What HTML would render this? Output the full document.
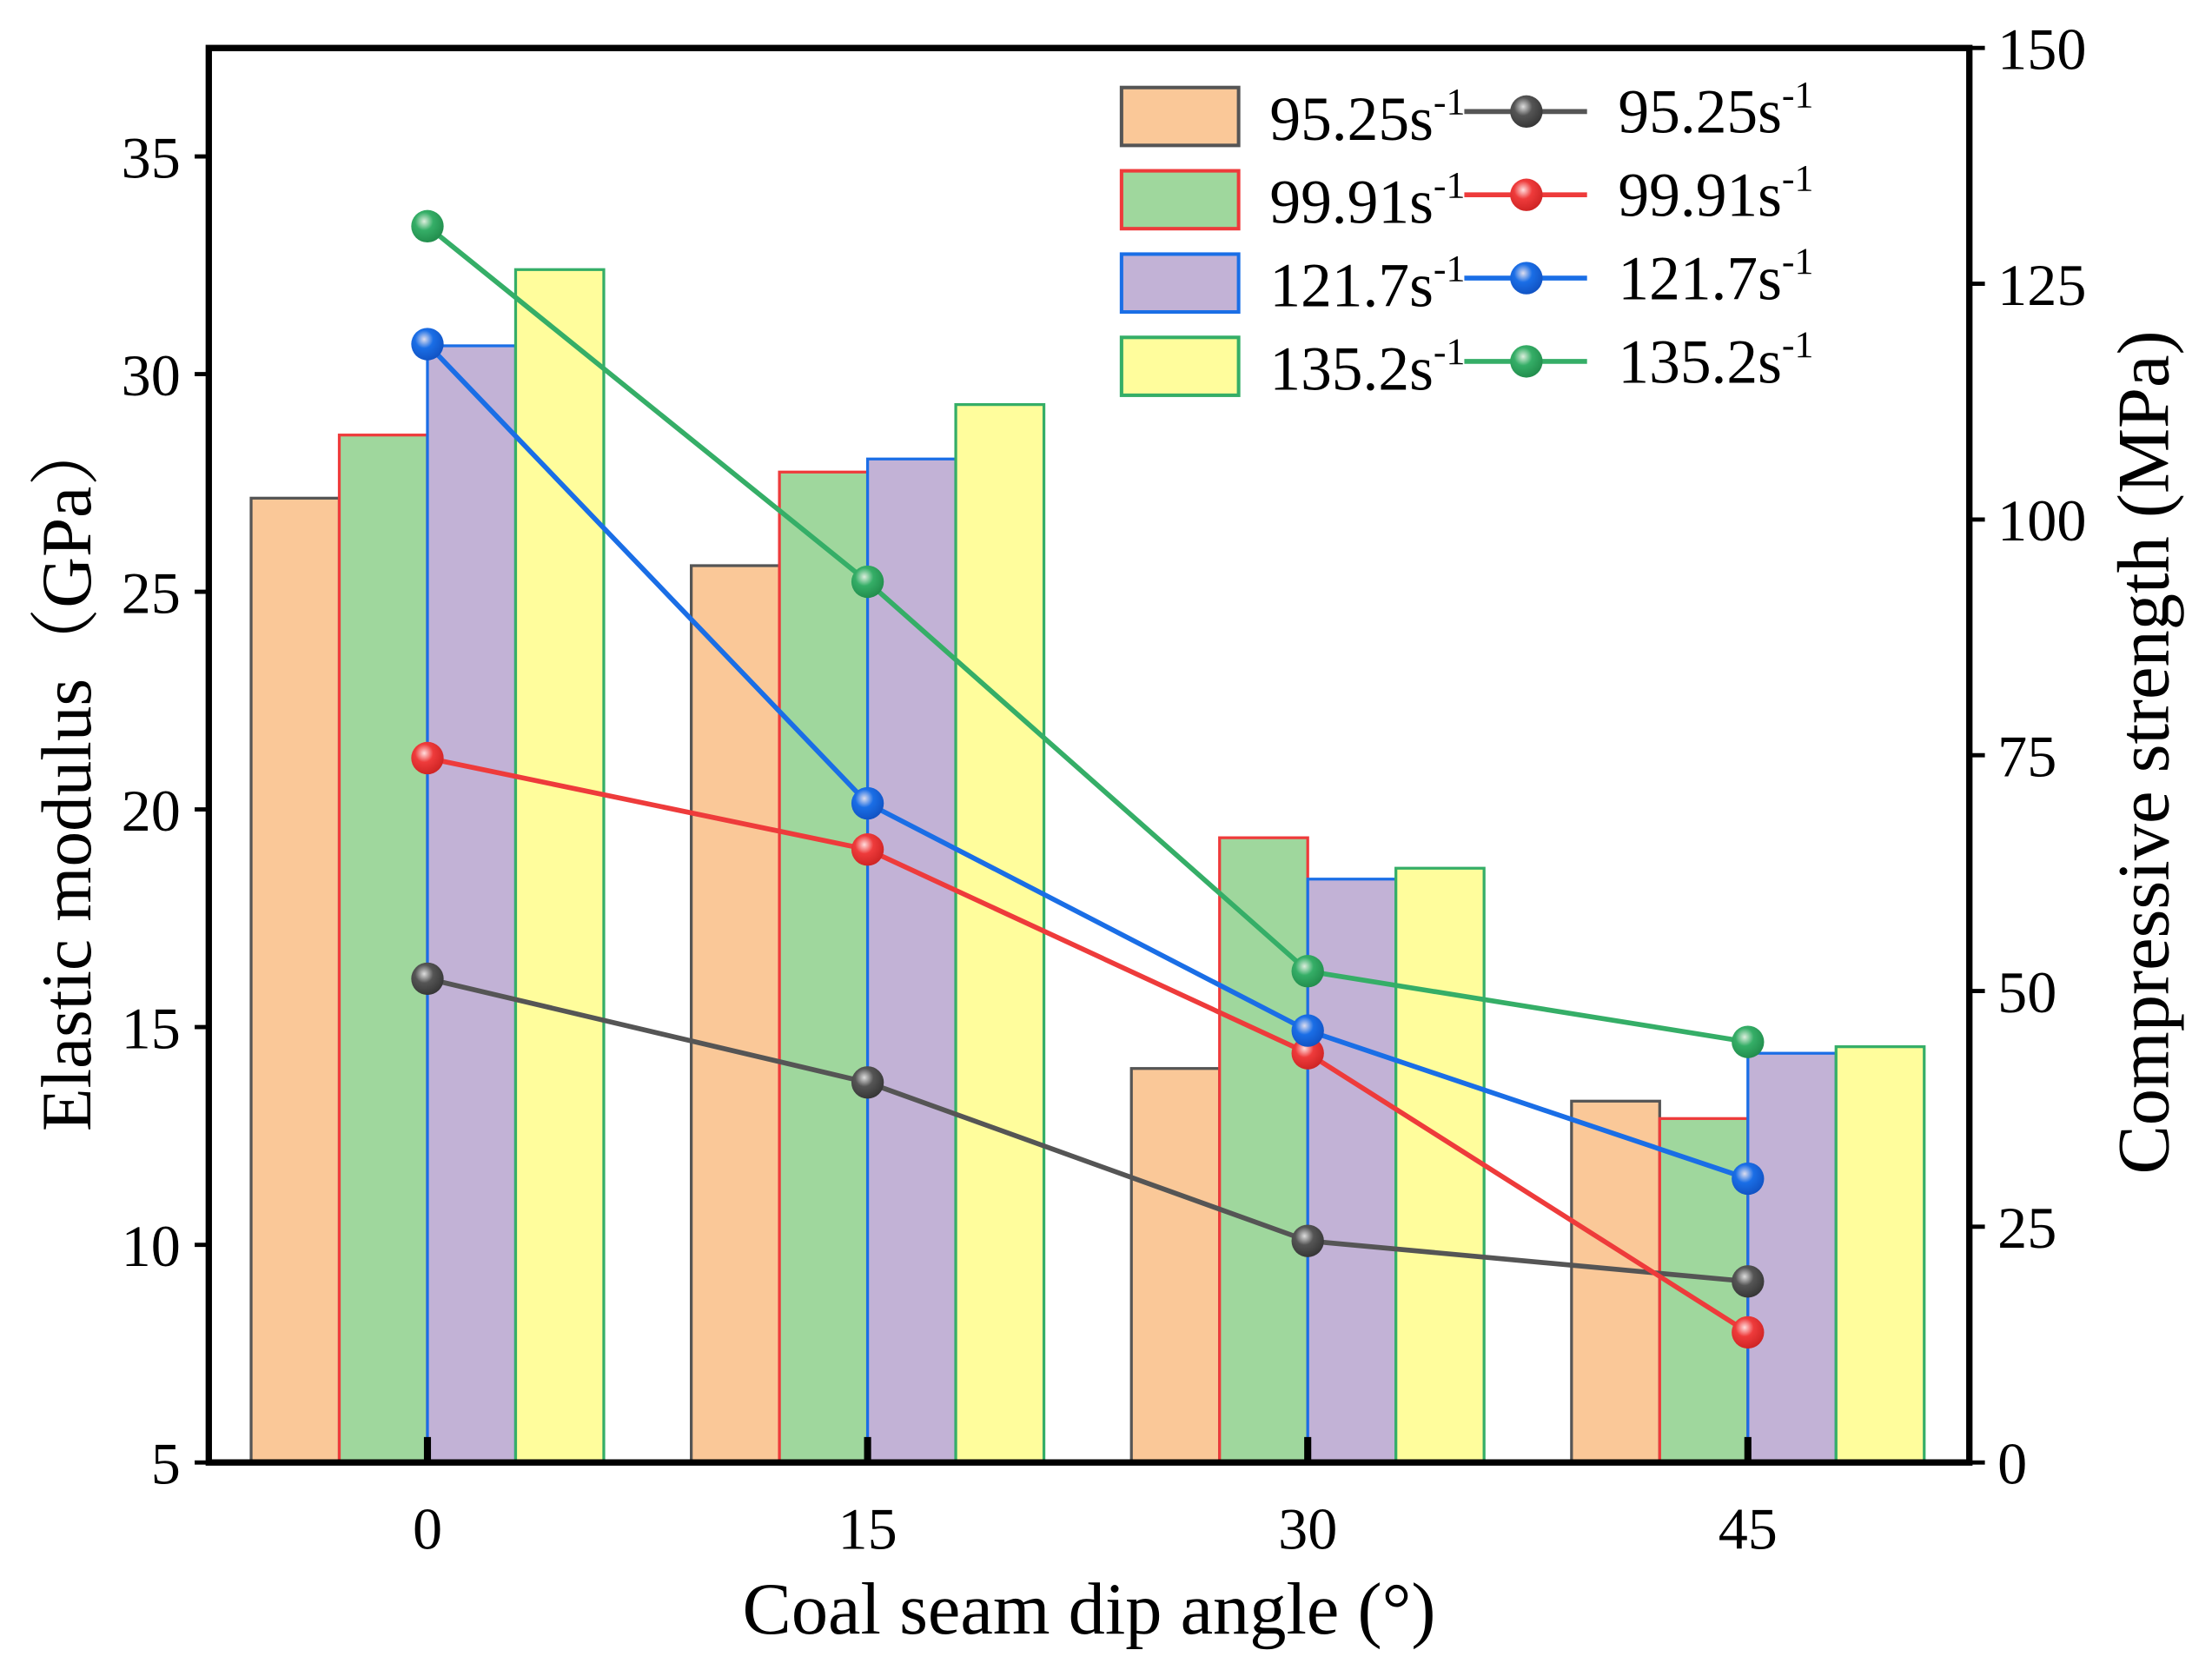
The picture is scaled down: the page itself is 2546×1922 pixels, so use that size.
<!DOCTYPE html>
<html><head><meta charset="utf-8"><style>
html,body{margin:0;padding:0;background:#fff}
svg{display:block}
text{font-family:"Liberation Serif",serif;fill:#000}
</style></head><body>
<svg id="chart" width="2546" height="1922" viewBox="0 0 1568 1183" preserveAspectRatio="none" xmlns="http://www.w3.org/2000/svg">
<defs>
<radialGradient id="gk" cx="0.4" cy="0.35" r="0.7"><stop offset="0" stop-color="#ddd"/><stop offset="0.4" stop-color="#555"/><stop offset="1" stop-color="#333"/></radialGradient>
<radialGradient id="gr" cx="0.4" cy="0.35" r="0.7"><stop offset="0" stop-color="#fdd"/><stop offset="0.4" stop-color="#ee3b3b"/><stop offset="1" stop-color="#c22"/></radialGradient>
<radialGradient id="gb" cx="0.4" cy="0.35" r="0.7"><stop offset="0" stop-color="#dde"/><stop offset="0.4" stop-color="#1a6ee6"/><stop offset="1" stop-color="#1050c0"/></radialGradient>
<radialGradient id="gg" cx="0.4" cy="0.35" r="0.7"><stop offset="0" stop-color="#ded"/><stop offset="0.4" stop-color="#35ae67"/><stop offset="1" stop-color="#208a4a"/></radialGradient>
</defs>
<g id="bars"></g>
<g id="lines"></g>
<rect x="148" y="34" width="1248" height="1002" fill="none" stroke="#000" stroke-width="4.5"/>
<g id="axes"></g>
<text x="772" y="1157" font-size="52" text-anchor="middle">Coal seam dip angle (°)</text>
<text transform="translate(64,548) rotate(-90)" font-size="50" text-anchor="middle" style='font-family:"Liberation Serif","Noto Serif CJK SC",serif'>Elastic modulus（GPa）</text>
<text transform="translate(1537,533) rotate(-90)" font-size="52" text-anchor="middle">Compressive strength (MPa)</text>
<g id="legend"></g>
</svg>
<script>
const categories = ["0","15","30","45"];
const seriesNames = ["95.25","99.91","121.7","135.2"];
const modulus0 = [27.15, 28.6, 30.65, 32.4];
const modulus15 = [25.6, 27.75, 28.05, 29.3];
const modulus30 = [14.05, 19.35, 18.4, 18.65];
const modulus45 = [13.3, 12.9, 14.4, 14.55];
const strength9525 = [51.3, 40.3, 23.5, 19.2];
const strength9991 = [74.7, 65.0, 43.4, 13.8];
const strength1217 = [118.6, 69.9, 45.8, 30.1];
const strength1352 = [131.1, 93.4, 52.1, 44.6];
const leftTicks = [5,10,15,20,25,30,35];
const rightTicks = [0,25,50,75,100,125,150];

const modulus = [modulus0, modulus15, modulus30, modulus45];
const strength = [strength9525, strength9991, strength1217, strength1352];
const fills = ["#FAC898","#9FD79D","#C2B2D6","#FFFD9C"];
const edges = ["#555","#ee3b3b","#1a6ee6","#35ae67"];
const grads = ["url(#gk)","url(#gr)","url(#gb)","url(#gg)"];
const NS = "http://www.w3.org/2000/svg";
const X0 = 303, DX = 312, BW = 62.5, YB = 1036;
function xPos(i){ return X0 + i*DX; }
function yLeft(v){ return YB - (v-5)/5*154.2; }
function yRight(v){ return YB - v/25*167; }
function mk(tag, attrs, parent){ const e=document.createElementNS(NS,tag); for(const k in attrs) e.setAttribute(k,attrs[k]); parent.appendChild(e); return e; }

const gBars = document.getElementById('bars');
modulus.forEach((vals,ci)=>{
  vals.forEach((v,si)=>{
    const x = xPos(ci) - 2*BW + si*BW;
    const y = yLeft(v);
    const r = mk('rect',{x:x,y:y,width:BW,height:YB-y,fill:fills[si],stroke:edges[si],'stroke-width':2},gBars);
    
    
  });
});
const gLines = document.getElementById('lines');
strength.forEach((vals,si)=>{
  const pts = vals.map((v,i)=>xPos(i)+','+yRight(v)).join(' ');
  const pl = mk('polyline',{points:pts,fill:'none',stroke:edges[si],'stroke-width':3.5},gLines);
  
  
});
strength.forEach((vals,si)=>{
  vals.forEach((v,i)=>{
    const c = mk('circle',{cx:xPos(i),cy:yRight(v),r:11.5,fill:grads[si]},gLines);
    
    
  });
});
const gAx = document.getElementById('axes');
leftTicks.forEach(t=>{
  const y=yLeft(t);
  mk('line',{x1:138,x2:148,y1:y,y2:y,stroke:'#000','stroke-width':3},gAx);
  const tx = mk('text',{x:128,y:y+15,'font-size':42,'text-anchor':'end'},gAx);
  tx.textContent = t;
  
  
});
rightTicks.forEach(t=>{
  const y=yRight(t);
  mk('line',{x1:1396,x2:1407,y1:y,y2:y,stroke:'#000','stroke-width':3},gAx);
  const tx = mk('text',{x:1416,y:y+15,'font-size':42},gAx);
  tx.textContent = t;
  
  
});
categories.forEach((c,i)=>{
  const x=xPos(i);
  mk('line',{x1:x,x2:x,y1:1036,y2:1018,stroke:'#000','stroke-width':5},gAx);
  const tx = mk('text',{x:x,y:1097,'font-size':42,'text-anchor':'middle'},gAx);
  tx.textContent = c;
  
  
});
const gLeg = document.getElementById('legend');
seriesNames.forEach((n,si)=>{
  const y = 62 + si*59;
  const r = mk('rect',{x:795,y:y,width:83,height:41,fill:fills[si],stroke:edges[si],'stroke-width':2.5},gLeg);
  
  
  const t1 = mk('text',{x:900,y:y+37,'font-size':44},gLeg);
  t1.innerHTML = n + 's<tspan dy="-18" font-size="27">-1</tspan>';
  
  
  mk('line',{x1:1038,x2:1125,y1:y+17,y2:y+17,stroke:edges[si],'stroke-width':3.5},gLeg);
  const c = mk('circle',{cx:1082,cy:y+17,r:11.5,fill:grads[si]},gLeg);
  
  
  const t2 = mk('text',{x:1147,y:y+32,'font-size':44},gLeg);
  t2.innerHTML = n + 's<tspan dy="-18" font-size="27">-1</tspan>';
  
  
});
</script>
</body></html>
